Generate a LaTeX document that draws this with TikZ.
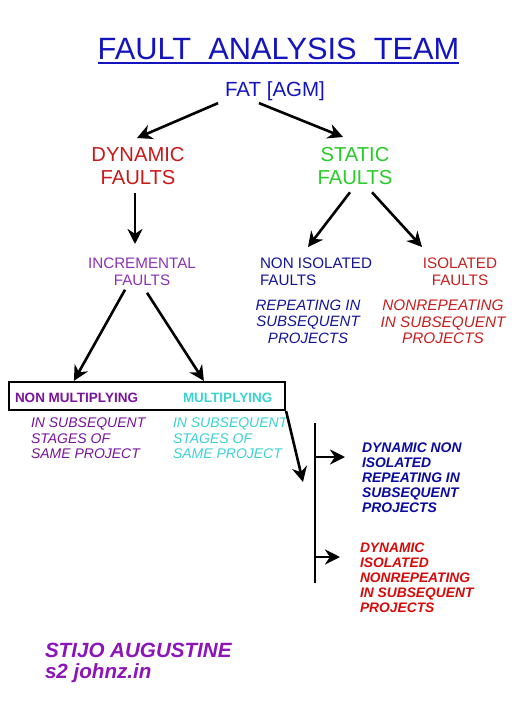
\documentclass[tikz,border=0pt]{standalone}
\usepackage{fontspec}
\setmainfont{Liberation Sans}
\usetikzlibrary{arrows.meta,calc}
\definecolor{ttlblue}{RGB}{20,20,190}
\definecolor{dynred}{RGB}{200,25,25}
\definecolor{statgreen}{RGB}{40,205,40}
\definecolor{incpurple}{RGB}{140,50,180}
\definecolor{nblue}{RGB}{20,20,150}
\definecolor{isored}{RGB}{200,30,30}
\definecolor{mpurple}{RGB}{120,20,155}
\definecolor{mcyan}{RGB}{60,210,210}
\definecolor{dblue}{RGB}{10,10,160}
\definecolor{dred}{RGB}{215,10,10}
\definecolor{apurple}{RGB}{140,20,185}
\tikzset{
  txt/.style={inner sep=0pt, outer sep=0pt},
  arr/.style={line width=2.6pt, -{Stealth[length=15pt,width=15pt]}},
  plainline/.style={line width=2.2pt},
}
\begin{document}
\begin{tikzpicture}[x=1pt,y=-1pt]
\useasboundingbox[fill=white] (0,0) rectangle (521,720);
% nodes
\node[txt, anchor=north, text=ttlblue, font=\fontsize{30.8}{34}\selectfont] (title) at (278.5,38) {FAULT\ \ ANALYSIS\ \ TEAM};
\draw[ttlblue, line width=1.5pt] ($(title.south west)+(0,3)$) -- ($(title.south east)+(0,3)$);
\node[txt, anchor=north, text=ttlblue, font=\fontsize{20.5}{23}\selectfont] (fat) at (275,82) {FAT [AGM]};
\node[txt, anchor=north, align=center, text=dynred, font=\fontsize{20.2}{23}\selectfont] (dyn) at (138,147) {DYNAMIC\\FAULTS};
\node[txt, anchor=north, align=center, text=statgreen, font=\fontsize{20.2}{23}\selectfont] (stat) at (355,147) {STATIC\\FAULTS};
\node[txt, anchor=north, align=center, text=incpurple, font=\fontsize{15.2}{17}\selectfont] (incr) at (142,258) {INCREMENTAL\\FAULTS};
\node[txt, anchor=north west, align=left, text=nblue, font=\fontsize{15.2}{17}\selectfont] (noniso) at (260,258) {NON ISOLATED\\FAULTS};
\node[txt, anchor=north, align=center, text=isored, font=\fontsize{15.2}{17}\selectfont] (iso) at (460,258) {ISOLATED\\FAULTS};
\node[txt, anchor=north, align=center, text=nblue, font=\fontsize{15}{16.5}\selectfont\itshape] (rep) at (308,300) {REPEATING IN\\SUBSEQUENT\\PROJECTS};
\node[txt, anchor=north, align=center, text=isored, font=\fontsize{15.3}{16.5}\selectfont\itshape] (nonrep) at (443,300) {NONREPEATING\\IN SUBSEQUENT\\PROJECTS};
\node[draw, plainline, minimum width=276pt, minimum height=28pt, inner sep=0pt] (box) at (147,396) {};
\node[txt, anchor=west, text=mpurple, font=\fontsize{13.5}{15}\selectfont\bfseries] (nm) at (15,398) {NON MULTIPLYING};
\node[txt, anchor=west, text=mcyan, font=\fontsize{13.5}{15}\selectfont\bfseries] (mult) at (183,398) {MULTIPLYING};
\node[txt, anchor=north west, align=left, text=mpurple, font=\fontsize{14}{15.5}\selectfont\itshape] (sub1) at (31,418) {IN SUBSEQUENT\\STAGES OF\\SAME PROJECT};
\node[txt, anchor=north west, align=left, text=mcyan, font=\fontsize{14}{15.5}\selectfont\itshape] (sub2) at (173,418) {IN SUBSEQUENT\\STAGES OF\\SAME PROJECT};
\node[txt, anchor=north west, align=left, text=dblue, font=\fontsize{13.9}{15}\selectfont\bfseries\itshape] (dni) at (362,443) {DYNAMIC NON\\ISOLATED\\REPEATING IN\\SUBSEQUENT\\PROJECTS};
\node[txt, anchor=north west, align=left, text=dred, font=\fontsize{13.8}{15}\selectfont\bfseries\itshape] (di) at (360,543) {DYNAMIC\\ISOLATED\\NONREPEATING\\IN SUBSEQUENT\\PROJECTS};
\node[txt, anchor=north west, align=left, text=apurple, font=\fontsize{20.6}{21}\selectfont\bfseries\itshape] (auth) at (45,643) {STIJO AUGUSTINE\\s2 johnz.in};
% branch line
\coordinate (vtop) at (315,423);
\coordinate (vbot) at (315,583);
\coordinate (b1) at (315,457);
\coordinate (b2) at (315,557);
\coordinate (tip) at (303,482);
\draw[plainline] (vtop) -- (vbot);
% connectors
\draw[arr] ($(fat.south west)+(-7,2)$) -- ($(dyn.north)+(-1,-9)$);
\draw[arr] ($(fat.south)+(-16,2)$) -- ($(stat.north)+(-12,-10)$);
\draw[arr] ($(dyn.south)+(-3,9)$) -- ($(incr.north)+(-7,-14)$);
\draw[arr] ($(stat.south)+(-5,8)$) -- ($(noniso.north west)+(48,-11)$);
\draw[arr] ($(stat.south)+(17,8)$) -- ($(iso.north)+(-38,-11)$);
\draw[arr] ($(incr.south)+(-17,4)$) -- ($(box.north west)+(66,0)$);
\draw[arr] ($(incr.south)+(5,7)$) -- ($(box.north west)+(196,0)$);
\draw[arr] (box.south east) -- (tip);
\draw[arr] (b1) -- ($(dni.north west)+(-17,14)$);
\draw[arr] (b2) -- ($(di.north west)+(-20,14)$);
\end{tikzpicture}
\end{document}
